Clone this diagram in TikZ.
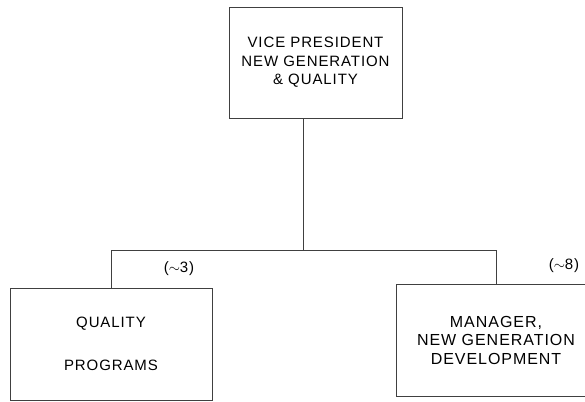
\documentclass[tikz,border=0pt]{standalone}
\usepackage{fontspec}
\setmainfont{Liberation Sans}[LetterSpace=6]
\usetikzlibrary{positioning}
\tikzstyle{org} = [draw=black!75, line width=0.6pt, rectangle, align=center,
   inner sep=0pt, font=\fontsize{15}{18.5}\selectfont, text=black]
\tikzstyle{line} = [draw=black!75, line width=0.6pt]
\tikzstyle{staff} = [font=\fontsize{15}{16}\selectfont, text=black]

\begin{document}
\begin{tikzpicture}[x=1pt,y=-1pt]

\useasboundingbox (0,0) rectangle (585,401);

% boxes
\node[org, minimum width=173pt, minimum height=111pt] (vp) at (315.5,62.5)
	{VICE PRESIDENT\\NEW GENERATION\\\&~QUALITY};
\node[org, minimum width=202pt, minimum height=112pt] (qp) at (111,344)
	{QUALITY\\[24pt]PROGRAMS};
\node[org, minimum width=200pt, minimum height=112pt, font=\fontsize{16}{18.5}\selectfont] (ngd) at (496,340)
	{MANAGER,\\NEW GENERATION\\DEVELOPMENT};

% head counts
\node[staff] (qpcount) at (179,269) {($\sim$3)};
\node[staff] (ngdcount) at (564,266) {($\sim$8)};

% tree lines
\coordinate (stem) at (303,118);
\coordinate (bus) at (303,250);
\draw[line] (stem) -- (bus);
\draw[line] (bus) -| (qp.north);
\draw[line] (bus) -| (ngd.north);

\end{tikzpicture}
\end{document}
